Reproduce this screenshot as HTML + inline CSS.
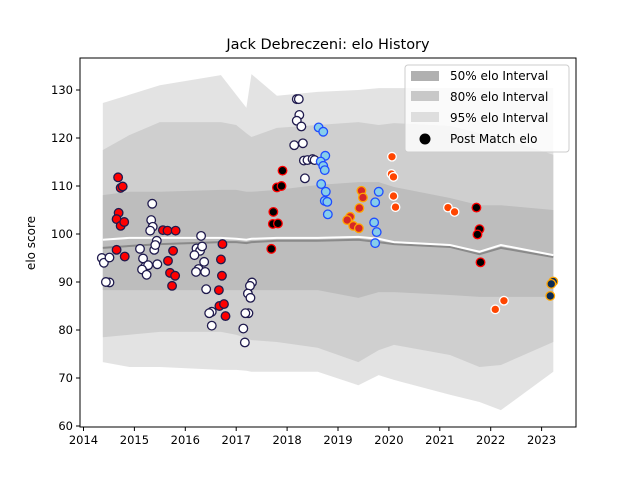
<!DOCTYPE html>
<html><head><meta charset="utf-8"><style>
body{margin:0;background:#fff;font-family:"Liberation Sans","DejaVu Sans",sans-serif}
svg text{font-family:"DejaVu Sans","Liberation Sans",sans-serif}
</style></head><body>
<svg id="c" width="640" height="480" xmlns="http://www.w3.org/2000/svg"></svg>
<script>
const bandYears=[2014.38,2014.9,2015.5,2016.7,2017.0,2017.2,2017.3,2017.8,2018.6,2019.4,2019.8,2020.1,2021.2,2021.78,2022.2,2023.23];
const p95Top=[127.3,129.0,131.0,133.1,129.0,126.3,133.3,128.8,129.6,130.0,130.4,130.4,130.4,130.4,130.4,130.4];
const p95Bot=[73.3,72.3,72.3,71.7,71.7,71.5,71.3,71.3,71.3,68.5,70.6,69.6,66.5,65.0,63.3,71.3];
const p80Top=[117.5,120.6,123.3,123.3,122.7,121.0,120.2,122.1,122.7,123.3,122.7,123.1,122.5,121.0,120.0,116.5];
const p80Bot=[78.5,79.0,79.6,79.6,79.0,78.3,77.9,77.5,76.3,73.3,75.8,76.9,74.8,72.3,72.7,77.5];
const p50Top=[108.1,108.8,108.8,109.2,109.2,108.8,108.8,109.2,110.2,110.8,110.8,109.8,107.5,106.0,106.0,105.0];
const p50Bot=[88.3,88.3,88.3,88.3,88.3,88.3,88.3,88.3,88.3,86.7,87.9,87.9,87.3,86.9,86.9,86.9];
const medianVals=[98.8,99.2,99.2,99.2,99.0,98.8,99.0,99.2,99.2,99.4,99.0,98.3,97.7,96.3,97.7,95.6];
const preVals=[97.1,97.5,97.9,98.3,98.3,98.1,98.3,98.6,98.6,98.8,98.3,97.9,97.3,95.8,97.1,95.2];
const seriesStyles=[["red","#1f1a4d"],["white","#1f1a4d"],["#87ceeb","#1f4dff"],["black","red"],["#d62728","orange"],["#ff4500","white"],["#0b2b55","orange"]];
const redYears=[2014.68,2014.73,2014.77,2014.69,2014.65,2014.73,2014.80,2014.65,2014.81,2015.56,2015.65,2015.81,2015.76,2015.66,2015.70,2015.80,2015.74,2016.73,2016.70,2016.72,2016.66,2016.67,2016.76,2016.79];
const redElo=[111.8,109.6,109.9,104.4,103.1,101.7,102.5,96.7,95.3,100.8,100.7,100.7,96.5,94.4,91.9,91.3,89.2,97.9,94.7,91.3,88.3,85.0,85.4,82.9];
const whiteYears=[2015.35,2015.33,2015.36,2015.31,2015.44,2016.31,2015.11,2015.39,2015.41,2014.36,2014.40,2014.51,2015.17,2015.21,2015.27,2015.15,2015.24,2015.45,2016.22,2016.29,2016.33,2016.18,2016.37,2016.26,2016.21,2016.39,2016.41,2014.51,2014.44,2016.52,2016.47,2016.52,2017.31,2017.27,2017.23,2017.28,2017.24,2017.18,2017.14,2017.17,2018.19,2018.23,2018.24,2018.19,2018.28,2018.14,2018.31,2018.33,2018.40,2018.50,2018.54,2018.35];
const whiteElo=[106.3,102.9,101.5,100.7,98.6,99.6,96.9,96.7,97.7,95.0,94.0,95.1,94.9,93.2,93.5,92.6,91.5,93.7,97.0,96.5,97.4,95.6,94.2,92.7,92.1,92.1,88.5,89.9,90.0,83.8,83.5,80.9,89.9,89.2,87.6,86.7,83.5,83.5,80.3,77.4,128.1,128.1,124.8,123.6,122.4,118.5,118.9,115.3,115.4,115.6,115.4,111.6];
const blueYears=[2018.62,2018.71,2018.75,2018.66,2018.71,2018.74,2018.67,2018.76,2018.74,2018.79,2018.80,2019.80,2019.73,2019.71,2019.76,2019.73];
const blueElo=[122.2,121.3,116.3,115.1,114.2,113.3,110.4,108.8,106.9,106.7,104.1,108.8,106.6,102.4,100.4,98.1];
const blackYears=[2017.91,2017.80,2017.89,2017.73,2017.72,2017.82,2017.69,2021.72,2021.78,2021.74,2021.80];
const blackElo=[113.2,109.7,110.0,104.6,102.1,102.2,96.9,105.5,101.0,99.9,94.1];
const crimsonYears=[2019.46,2019.49,2019.42,2019.24,2019.18,2019.30,2019.41];
const crimsonElo=[109.0,107.6,105.4,103.6,102.9,101.7,101.2];
const orangeYears=[2020.06,2020.05,2020.09,2020.09,2020.13,2021.16,2021.29,2022.26,2022.09];
const orangeElo=[116.1,112.5,111.9,107.9,105.6,105.5,104.6,86.1,84.3];
const navyYears=[2023.23,2023.19,2023.17];
const navyElo=[90.1,89.6,87.1];
const xTicks=[2014,2015,2016,2017,2018,2019,2020,2021,2022,2023];
const yTicks=[60,70,80,90,100,110,120,130];

const L=80,R=576,T=58,B=427;
const xs=v=>83.5+(v-2014)*50.9;
const ys=v=>426-(v-60)*4.8;
const svg=document.getElementById('c');
const NS='http://www.w3.org/2000/svg';
function mk(tag,attrs,parent){const e=document.createElementNS(NS,tag);for(const k in attrs)e.setAttribute(k,attrs[k]);(parent||svg).appendChild(e);return e;}

function band(top,bot,color,name){
  let d='M'+bandYears.map((y,i)=>xs(y)+','+ys(top[i])).join('L');
  for(let i=bandYears.length-1;i>=0;i--)d+='L'+xs(bandYears[i])+','+ys(bot[i]);
  const p=mk('path',{d:d+'Z',fill:color});
  
  
}
band(p95Top,p95Bot,'#e3e3e3','band-95');
band(p80Top,p80Bot,'#cfcfcf','band-80');
band(p50Top,p50Bot,'#bdbdbd','band-50');
function line(vals,color,w,name){
  const p=mk('polyline',{points:bandYears.map((y,i)=>xs(y)+','+ys(vals[i])).join(' '),fill:'none',stroke:color,'stroke-width':w});
  
  
}
line(preVals,'#8a8a8a',2,'pre-match-line');
line(medianVals,'#ffffff',2,'median-line');

const groups=[[redYears,redElo],[whiteYears,whiteElo],[blueYears,blueElo],[blackYears,blackElo],[crimsonYears,crimsonElo],[orangeYears,orangeElo],[navyYears,navyElo]];
groups.forEach((g,gi)=>{
  g[0].forEach((yr,i)=>{
    const c=mk('circle',{cx:xs(yr),cy:ys(g[1][i]),r:4.3,fill:seriesStyles[gi][0],stroke:seriesStyles[gi][1],'stroke-width':1.3});
    
    
  });
});

// frame
const fr=mk('rect',{x:L,y:T,width:R-L,height:B-T,fill:'none',stroke:'#000','stroke-width':1});


xTicks.forEach(t=>{
  mk('line',{x1:xs(t),x2:xs(t),y1:B,y2:B+4,stroke:'#000'});
  const tx=mk('text',{x:xs(t),y:B+17,'text-anchor':'middle','font-size':11.5});
  tx.textContent=t;
  
  
});
yTicks.forEach(t=>{
  mk('line',{x1:L-4,x2:L,y1:ys(t),y2:ys(t),stroke:'#000'});
  const tx=mk('text',{x:L-7,y:ys(t)+4,'text-anchor':'end','font-size':11.5});
  tx.textContent=t;
  
  
});
</script>
<svg width="640" height="480" style="position:absolute;left:0;top:0" xmlns="http://www.w3.org/2000/svg">
<text x="328" y="49" text-anchor="middle" font-size="14.5" font-family="DejaVu Sans, sans-serif">Jack Debreczeni: elo History</text>
<text x="0" y="0" transform="translate(35,243) rotate(-90)" text-anchor="middle" font-size="12" font-family="DejaVu Sans, sans-serif">elo score</text>
<g font-family="DejaVu Sans, sans-serif" font-size="12">
<rect x="405" y="65" width="164" height="87" rx="3" fill="#fff" fill-opacity="0.8" stroke="#ccc"/>
<rect x="411" y="71" width="28" height="10" fill="#b0b0b0"/>
<text x="450" y="80">50% elo Interval</text>
<rect x="411" y="91" width="28" height="10" fill="#c8c8c8"/>
<text x="450" y="101">80% elo Interval</text>
<rect x="411" y="112" width="28" height="10" fill="#dedede"/>
<text x="450" y="122">95% elo Interval</text>
<circle cx="425" cy="139" r="5.5" fill="#000"/>
<text x="450" y="143">Post Match elo</text>
</g>
</svg>
</body></html>
